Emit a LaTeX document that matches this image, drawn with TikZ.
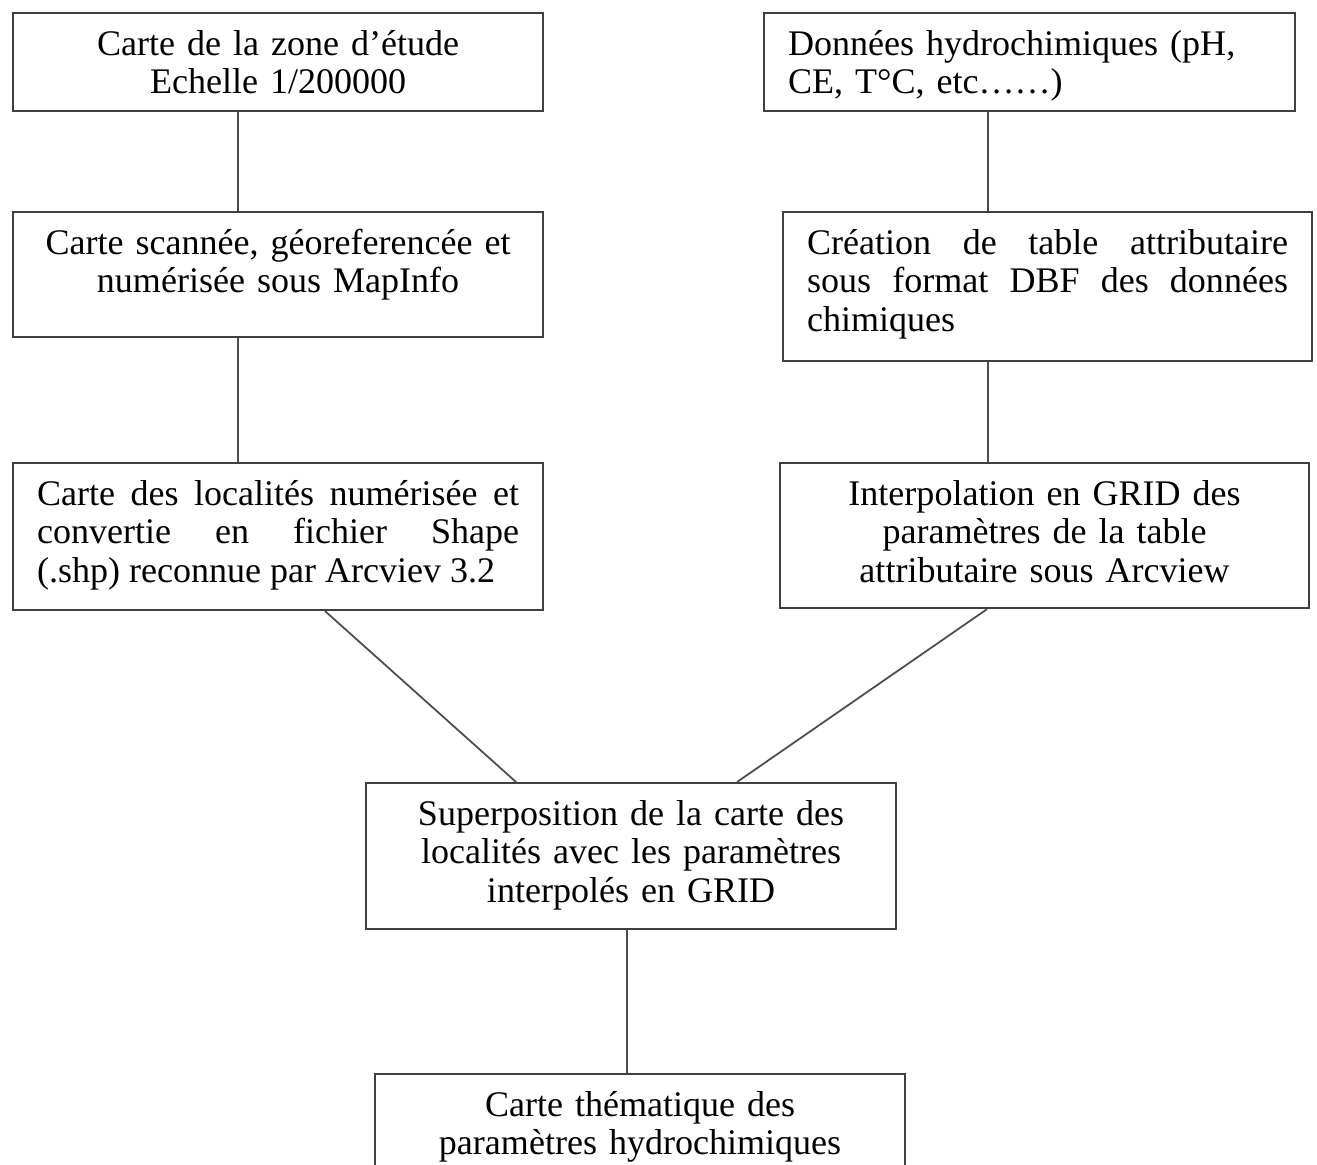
\documentclass[tikz,border=0pt]{standalone}
\usepackage{fontspec}
\setmainfont{Liberation Serif}
\begin{document}
\begin{tikzpicture}[
  boite/.style={draw=black!75, line width=1.2pt, anchor=north west, inner xsep=0.48cm, inner ysep=0pt, text height=0.84cm, font=\fontsize{20.5pt}{21.9pt}\selectfont},
  lien/.style={black!70, line width=1pt}]

\useasboundingbox (0,0) rectangle (26.34,-23.3);

% colonne de gauche
\node[boite, text width=9.64cm, text depth=1.12cm, align=center] (zone) at (0.24,-0.24) {Carte de la zone d’étude\\Echelle 1/200000};
\node[boite, text width=9.64cm, text depth=1.66cm, align=center] (scan) at (0.24,-4.22) {Carte scannée, géoreferencée et\\numérisée sous MapInfo};
\node[boite, text width=9.64cm, text depth=2.10cm, align=justify] (locali) at (0.24,-9.24) {Carte des localités numérisée et\linebreak convertie en fichier Shape\linebreak (.shp) reconnue par Arcviev 3.2};

% colonne de droite
\node[boite, text width=9.66cm, text depth=1.12cm, align=left] (donnees) at (15.26,-0.24) {Données hydrochimiques (pH,\\CE, T°C, etc……)};
\node[boite, text width=9.62cm, text depth=2.14cm, align=justify] (table) at (15.64,-4.22) {Création de table attributaire\linebreak sous format DBF des données\linebreak chimiques};
\node[boite, text width=9.62cm, text depth=2.06cm, align=center] (interp) at (15.58,-9.24) {Interpolation en GRID des\\paramètres de la table\\attributaire sous Arcview};

% milieu
\node[boite, text width=9.64cm, text depth=2.08cm, align=center] (superp) at (7.3,-15.64) {Superposition de la carte des\\localités avec les paramètres\\interpolés en GRID};
\node[boite, text width=9.64cm, text depth=1.56cm, align=center] (thema) at (7.48,-21.46) {Carte thématique des\\paramètres hydrochimiques};

% liens
\foreach \a/\da/\b/\db in {zone/-0.8/scan/-0.8, scan/-0.8/locali/-0.8, donnees/-0.83/table/-1.19, table/-1.19/interp/-1.13, locali/0.94/superp/-2.3, interp/-1.15/superp/2.12, superp/-0.08/thema/-0.26}
	\draw[lien] ([xshift=\da cm]\a.south) -- ([xshift=\db cm]\b.north);

\end{tikzpicture}
\end{document}
